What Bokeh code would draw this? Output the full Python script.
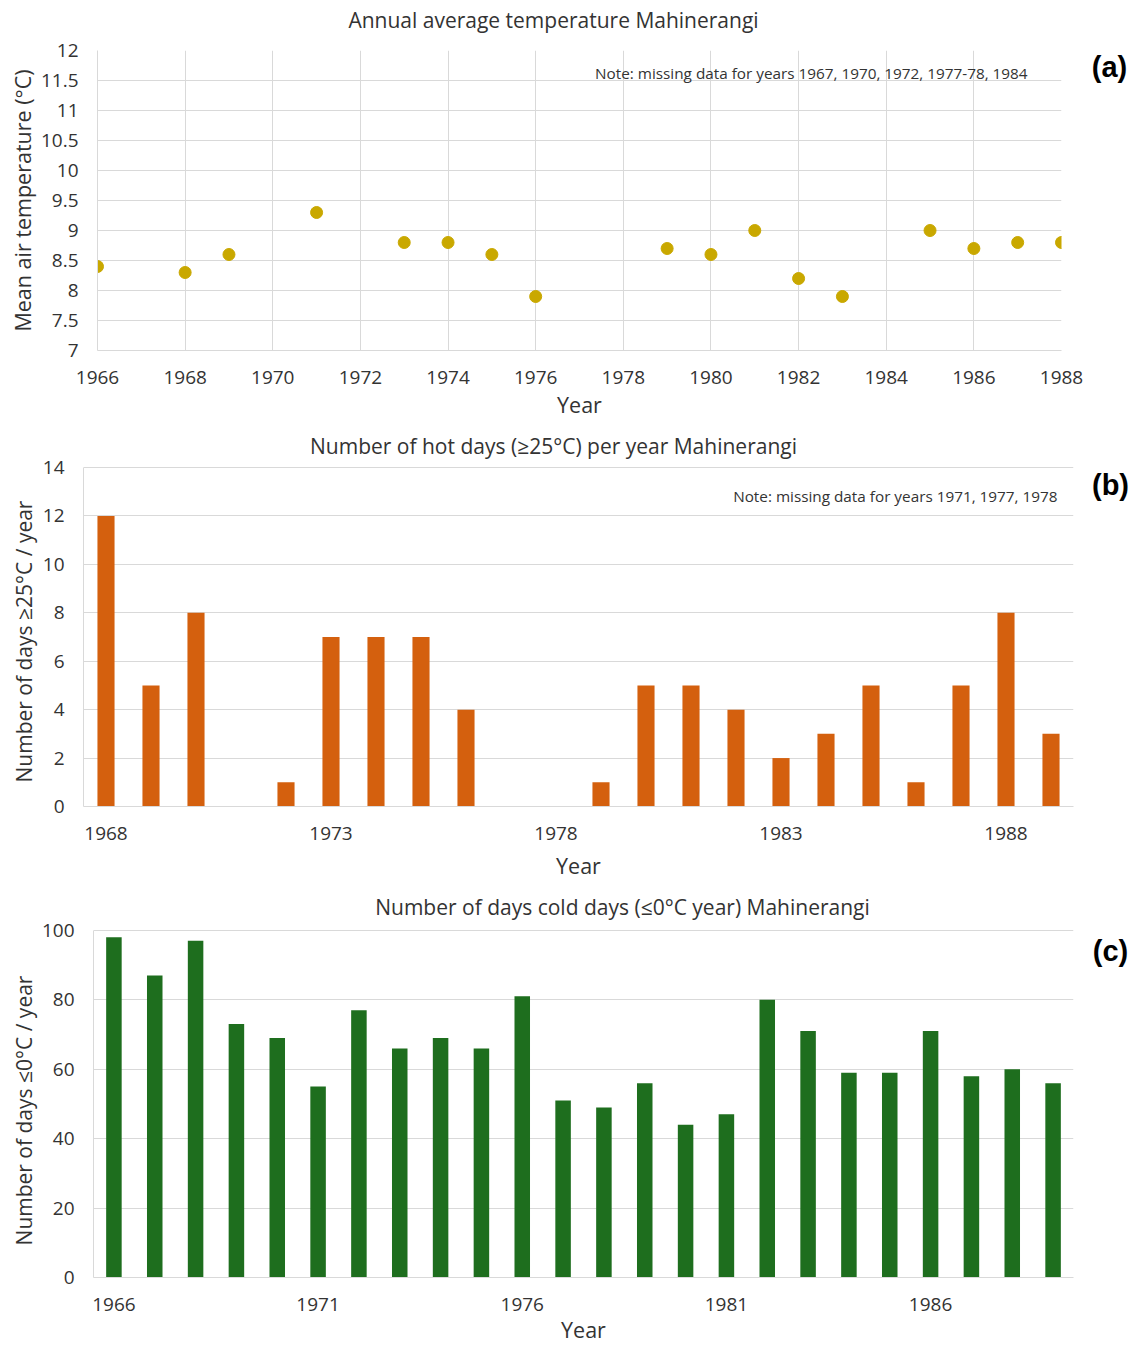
import math
from bokeh.plotting import figure
from bokeh.layouts import column, row
from bokeh.models import Label, FixedTicker, ColumnDataSource
from bokeh.embed import file_html
from bokeh.resources import INLINE

# ---------------- data ----------------
temp_years = [1966, 1968, 1969, 1971, 1973, 1974, 1975, 1976, 1979, 1980, 1981, 1982, 1983, 1985, 1986, 1987, 1988]
temp_values = [8.4, 8.3, 8.6, 9.3, 8.8, 8.8, 8.6, 7.9, 8.7, 8.6, 9.0, 8.2, 7.9, 9.0, 8.7, 8.8, 8.8]

hot_years = [1968, 1969, 1970, 1972, 1973, 1974, 1975, 1976, 1979, 1980, 1981, 1982, 1983, 1984, 1985, 1986, 1987, 1988, 1989]
hot_values = [12, 5, 8, 1, 7, 7, 7, 4, 1, 5, 5, 4, 2, 3, 5, 1, 5, 8, 3]

cold_years = list(range(1966, 1990))
cold_values = [98, 87, 97, 73, 69, 55, 77, 66, 69, 66, 81, 51, 49, 56, 44, 47, 80, 71, 59, 59, 71, 58, 60, 56]

temp_xticks = [1966, 1968, 1970, 1972, 1974, 1976, 1978, 1980, 1982, 1984, 1986, 1988]
temp_yticks = [7, 7.5, 8, 8.5, 9, 9.5, 10, 10.5, 11, 11.5, 12]
hot_xticks = [1968, 1973, 1978, 1983, 1988]
hot_yticks = [0, 2, 4, 6, 8, 10, 12, 14]
cold_xticks = [1966, 1971, 1976, 1981, 1986]
cold_yticks = [0, 20, 40, 60, 80, 100]

title_a = "Annual average temperature Mahinerangi"
title_b = "Number of hot days (\u226525\u00b0C) per year Mahinerangi"
title_c = "Number of days cold days (\u22640\u00b0C year) Mahinerangi"
note_a = "Note: missing data for years 1967, 1970, 1972, 1977-78, 1984"
note_b = "Note: missing data for years 1971, 1977, 1978"
ylabel_a = "Mean air temperature (\u00b0C)"
ylabel_b = "Number of days \u226525\u00b0C / year"
ylabel_c = "Number of days \u22640\u00b0C / year"
xlabel = "Year"

FONT = "Open Sans"
GRID = "#D9D9D9"
TXT = "#333333"
LEFT_W = 38
SIDE_W = 46
FULL_W = 1136


def no_align(p):
    try:
        p.frame_align = False
    except Exception:
        pass


def blank(width, height):
    p = figure(width=width, height=height, output_backend="svg", toolbar_location=None,
               x_range=(0, width), y_range=(height, 0), x_axis_type=None, y_axis_type=None,
               min_border=0, min_border_left=0, min_border_right=0, min_border_top=0, min_border_bottom=0)
    p.outline_line_color = None
    p.background_fill_color = "white"
    p.border_fill_color = "white"
    p.grid.visible = False
    no_align(p)
    return p


def title_label(text, x, y):
    return Label(x=x, y=y, text=text, text_font=FONT, text_font_size="21px",
                 text_color=TXT, text_align="center", text_baseline="middle")


def note_label(text, x, y):
    return Label(x=x, y=y, text=text, text_font=FONT, text_font_size="15.3px",
                 text_color=TXT, text_align="center", text_baseline="middle")


def side(height, text, x, y):
    s = blank(SIDE_W, height)
    s.add_layout(Label(x=x, y=y, text=text, text_font="Liberation Sans", text_font_size="29px",
                       text_font_style="bold", text_color="black", text_align="center",
                       text_baseline="middle"))
    return s


def left(height, text, x, y):
    s = blank(LEFT_W, height)
    s.add_layout(Label(x=x, y=y, text=text, text_font=FONT, text_font_size="21px",
                       text_color=TXT, text_align="center", text_baseline="middle",
                       angle=math.pi / 2))
    return s


def style(p, xticks, yticks, vgrid, xstand, xlabstand, ystand, ylabstand):
    no_align(p)
    p.outline_line_color = None
    p.background_fill_color = "white"
    p.border_fill_color = "white"
    for ax in (p.xaxis[0], p.yaxis[0]):
        ax.major_tick_line_color = None
        ax.minor_tick_line_color = None
        ax.major_tick_out = 0
        ax.major_tick_in = 0
        ax.minor_tick_out = 0
        ax.minor_tick_in = 0
        ax.axis_line_color = GRID
        ax.major_label_text_font = FONT
        ax.major_label_text_font_size = "19px"
        ax.major_label_text_color = TXT
        ax.axis_label_text_font = FONT
        ax.axis_label_text_font_size = "21.5px"
        ax.axis_label_text_font_style = "normal"
        ax.axis_label_text_color = TXT
    p.xaxis[0].ticker = FixedTicker(ticks=xticks)
    p.yaxis[0].ticker = FixedTicker(ticks=yticks)
    p.xaxis[0].major_label_standoff = xstand
    p.xaxis[0].axis_label_standoff = xlabstand
    p.yaxis[0].major_label_standoff = ystand
    p.yaxis[0].axis_label_standoff = ylabstand
    p.yaxis[0].bounds = (yticks[0], yticks[-1])
    p.ygrid.grid_line_color = GRID
    p.ygrid.ticker = FixedTicker(ticks=yticks)
    if vgrid:
        p.xgrid.grid_line_color = GRID
        p.xgrid.ticker = FixedTicker(ticks=xticks)
    else:
        p.xgrid.grid_line_color = None


# ---------------- panel (a) ----------------
head_a = blank(FULL_W, 35)
head_a.add_layout(title_label(title_a, 553, 19))

MAIN_A_W = FULL_W - SIDE_W
pa = figure(width=MAIN_A_W, height=390, output_backend="svg", toolbar_location=None,
            x_range=(1966, 1988), y_range=(7, 12),
            min_border_left=97, min_border_right=MAIN_A_W - 1061, min_border_top=15, min_border_bottom=75)
style(pa, temp_xticks, temp_yticks, True, 20, 3, 19, 1)
pa.xaxis.axis_label = xlabel
pa.yaxis.axis_label = ylabel_a
pa.yaxis.major_label_overrides = {t: ("%g" % t) for t in temp_yticks}
src_a = ColumnDataSource(dict(x=temp_years, y=temp_values))
pa.scatter("x", "y", source=src_a, size=12, fill_color="#C9A800", line_color="#C9A800")
pa.add_layout(note_label(note_a, 1982.29, 11.617))
sa = side(390, "(a)", 19, 31)

# ---------------- panel (b) ----------------
# frame extends above the value axis so that the chart title sits inside it
MAIN_W = FULL_W - SIDE_W - LEFT_W
b_top_px, b_axis_top_px, b_bottom_px = 428, 467, 806
b_ymax = hot_yticks[-1] * (b_bottom_px - b_top_px) / (b_bottom_px - b_axis_top_px)
b_ppu = (b_bottom_px - b_axis_top_px) / hot_yticks[-1]
pb = figure(width=MAIN_W, height=465, output_backend="svg", toolbar_location=None,
            x_range=(1967.5, 1989.5), y_range=(0, b_ymax),
            min_border_left=83 - LEFT_W, min_border_right=MAIN_W + LEFT_W - 1073,
            min_border_top=3, min_border_bottom=84)
style(pb, hot_xticks, hot_yticks, False, 20, 8, 19, 0)
pb.xaxis.axis_label = xlabel
src_b = ColumnDataSource(dict(x=hot_years, top=hot_values))
pb.vbar(x="x", top="top", bottom=0, width=0.38, source=src_b, fill_color="#D4600E", line_color=None)
pb.add_layout(title_label(title_b, 1967.5 + (553 - 83) / 45.0, hot_yticks[-1] + (467 - 445) / b_ppu))
pb.add_layout(note_label(note_b, 1985.54, 12.84))
lb = left(465, ylabel_b, 23.5, 641 - 425)
sb = side(465, "(b)", 20, 59)

# ---------------- panel (c) ----------------
c_top_px, c_axis_top_px, c_bottom_px = 893, 930, 1278
c_ymax = cold_yticks[-1] * (c_bottom_px - c_top_px) / (c_bottom_px - c_axis_top_px)
c_ppu = (c_bottom_px - c_axis_top_px) / cold_yticks[-1]
pc = figure(width=MAIN_W, height=456, output_backend="svg", toolbar_location=None,
            x_range=(1965.5, 1989.5), y_range=(0, c_ymax),
            min_border_left=93 - LEFT_W, min_border_right=MAIN_W + LEFT_W - 1073,
            min_border_top=3, min_border_bottom=68)
style(pc, cold_xticks, cold_yticks, False, 20, 1, 19, 0)
pc.xaxis.axis_label = xlabel
src_c = ColumnDataSource(dict(x=cold_years, top=cold_values))
pc.vbar(x="x", top="top", bottom=0, width=0.38, source=src_c, fill_color="#1E6E1E", line_color=None)
pc.add_layout(title_label(title_c, 1965.5 + (622 - 93) / (980 / 24.0), cold_yticks[-1] + (930 - 907) / c_ppu))
lc = left(456, ylabel_c, 23, 1110 - 890)
sc = side(456, "(c)", 20, 60)

# ---------------- assembly ----------------
layout = column(head_a,
                row(pa, sa, spacing=0),
                row(lb, pb, sb, spacing=0),
                row(lc, pc, sc, spacing=0),
                spacing=0)
open("out.html", "w").write(file_html(layout, INLINE))
